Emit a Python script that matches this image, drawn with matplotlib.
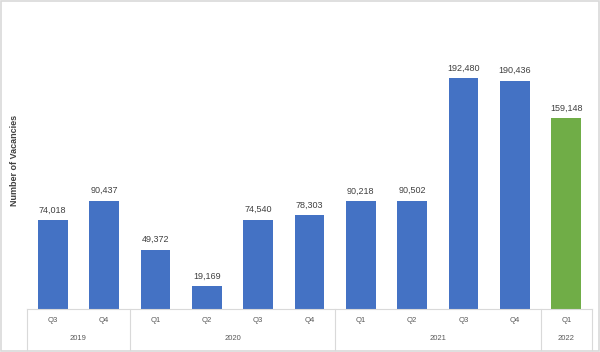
import matplotlib
matplotlib.use("Agg")
import matplotlib.pyplot as plt
from matplotlib.patches import Rectangle

quarters = ["Q3", "Q4", "Q1", "Q2", "Q3", "Q4", "Q1", "Q2", "Q3", "Q4", "Q1"]
years = ["2019", "2020", "2021", "2022"]
year_counts = [2, 4, 4, 1]
values = [74018, 90437, 49372, 19169, 74540, 78303, 90218, 90502, 192480, 190436, 159148]
colors = ["#4472C4"] * 10 + ["#70AD47"]

plt.rcParams['font.family'] = ['Liberation Sans', 'DejaVu Sans']

fig = plt.figure(figsize=(6, 3.52), dpi=100)
ax_h_px = 299.5
base_px = 43
ax = fig.add_axes([27/600, base_px/352, 565/600, ax_h_px/352])
x = list(range(len(values)))
bars = ax.bar(x, values, width=0.58, color=colors, zorder=2)
ax.set_xlim(-0.5, len(values) - 0.5)
ax.set_ylim(0, 250000)
for s in ax.spines.values():
    s.set_visible(False)
ax.set_xticks([])
ax.set_yticks([])

for xi, v in zip(x, values):
    ax.annotate(f"{v:,}", (xi, v), xytext=(0, 4), textcoords="offset points",
                ha="center", va="bottom", fontsize=6.5, color="#404040")

grey = "#d9d9d9"
trans = ax.get_xaxis_transform()
bottom = -(base_px - 2) / ax_h_px
ax.plot([-0.5, len(values) - 0.5], [0, 0], transform=trans, color=grey, lw=0.8, clip_on=False)
bounds = [-0.5]
for c in year_counts:
    bounds.append(bounds[-1] + c)
for b in bounds:
    ax.plot([b, b], [0, bottom], transform=trans, color=grey, lw=0.8, clip_on=False)

for xi, q in zip(x, quarters):
    ax.text(xi, -12 / ax_h_px, q, transform=trans, ha="center", va="center",
            fontsize=5.5, color="#595959")
for i, yname in enumerate(years):
    mid = (bounds[i] + bounds[i + 1]) / 2
    ax.text(mid, -30 / ax_h_px, yname, transform=trans, ha="center", va="center",
            fontsize=5.5, color="#595959")

fig.text(15/600, 1 - 160/352, "Number of Vacancies", rotation=90, ha="center", va="center",
         fontsize=6.5, color="#404040", fontweight="bold")

fig.patches.append(Rectangle((0.002, 0.003), 0.996, 0.994, transform=fig.transFigure,
                             fill=False, edgecolor="#d9d9d9", lw=1.2))

fig.savefig("out.png", dpi=100)
